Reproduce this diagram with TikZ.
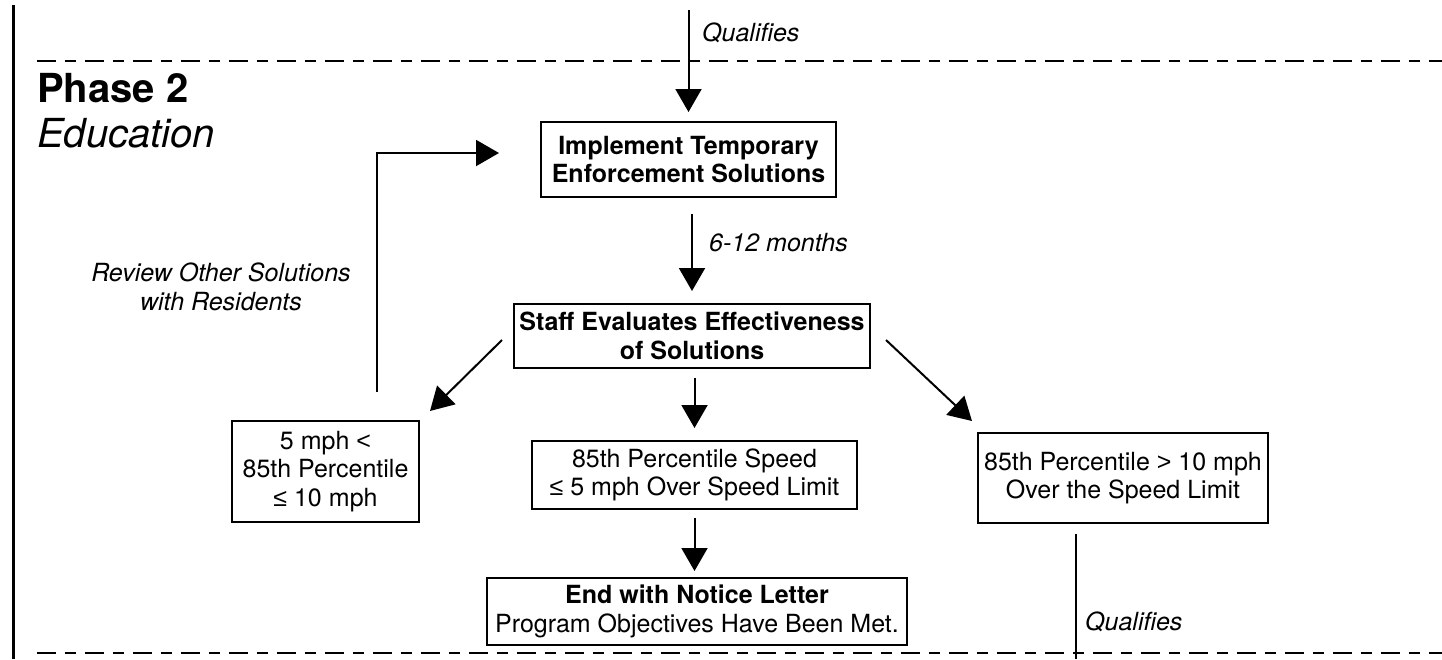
\documentclass[tikz,border=0pt]{standalone}
\usepackage{fontspec}
\setmainfont{TeX Gyre Heros}
\newfontfamily\symfont{Liberation Sans}
\usetikzlibrary{arrows.meta,calc}

\begin{document}
\begin{tikzpicture}[x=1pt,y=-1pt,
  box/.style={draw, line width=2pt, align=center, inner sep=0pt,
    font=\fontsize{25}{28.5}\selectfont},
  bbox/.style={box, font=\fontsize{25}{28.5}\selectfont\bfseries},
  lbl/.style={font=\fontsize{25}{28.5}\selectfont\itshape, inner sep=0pt, align=center},
  heading/.style={anchor=base west, inner sep=0pt},
  arr/.style={line width=2pt, -{Triangle[length=23pt,width=26pt]}},
  conn/.style={line width=2pt},
  divider/.style={line width=2.2pt, dash pattern=on 19pt off 9pt on 11pt off 9pt},
]
\useasboundingbox (0,0) rectangle (1442,659);

% phase frame: side rule and the two dashed dividers
\draw[line width=3pt] (13,5) -- (13,659);
\draw[divider] (37,61) -- (1442,61);
\draw[divider] (37,653) -- (1442,653);

% heading
\node[heading, font=\fontsize{40}{44}\selectfont\bfseries] (phase) at (37,102) {Phase 2};
\node[heading, font=\fontsize{40}{44}\selectfont\itshape] (edu) at (37,147) {Education};

% process boxes
\node[bbox, minimum width=295pt, minimum height=75pt] (impl) at (688.5,159.5)
  {Implement Temporary\\Enforcement Solutions};
\node[bbox, minimum width=356pt, minimum height=64pt] (staff) at (692,336)
  {Staff Evaluates Effectiveness\\of Solutions};
\node[box, minimum width=187pt, minimum height=101pt] (low) at (325.5,471.5)
  {5 mph {\symfont <}\\85th Percentile\\{\symfont ≤} 10 mph};
\node[box, minimum width=325pt, minimum height=68pt] (ok) at (694.5,475)
  {85th Percentile Speed\\{\symfont ≤} 5 mph Over Speed Limit};
\node[box, minimum width=290pt, minimum height=90pt] (high) at (1123,478)
  {85th Percentile {\symfont >} 10 mph\\Over the Speed Limit};
\node[box, minimum width=420pt, minimum height=67pt] (done) at (697,611.5)
  {{\bfseries End with Notice Letter}\\Program Objectives Have Been Met.};

% incoming flow from the previous phase
\coordinate (topin) at (688.5,10);
\draw[arr, shorten >=9pt] (topin) -- (impl.north);
\node[lbl, anchor=base west] (q1) at (702,41) {Qualifies};

% main flow
\draw[arr, shorten <=16pt, shorten >=12pt] (staff.north |- impl.south) -- (staff.north);
\node[lbl, anchor=base west] (months) at (709,251) {6-12 months};

\draw[arr] ($(staff.west)+(-11,4)$) -- ($(low.north east)+(10,-9)$);
\draw[arr, shorten <=9pt, shorten >=12pt] (ok.north |- staff.south) -- (ok.north);
\draw[arr] ($(staff.east)+(15,4)$) -- ($(high.north west)+(-5,-11)$);
\draw[arr, shorten <=8pt, shorten >=6pt] (ok.south) -- (ok.south |- done.north);

% loop back to the temporary solutions
\draw[arr] ($(low.north)+(51.5,-28)$) |- ($(impl.west)+(-41,-6.5)$);
\node[lbl] (review) at (221,287) {Review Other Solutions\\with Residents};

% outgoing flow to the next phase
\coordinate (botout) at (1076,659);
\draw[conn] ($(high.south)+(-47,10)$) -- (botout);
\node[lbl, anchor=base west] (q2) at (1085,630) {Qualifies};
\end{tikzpicture}
\end{document}
